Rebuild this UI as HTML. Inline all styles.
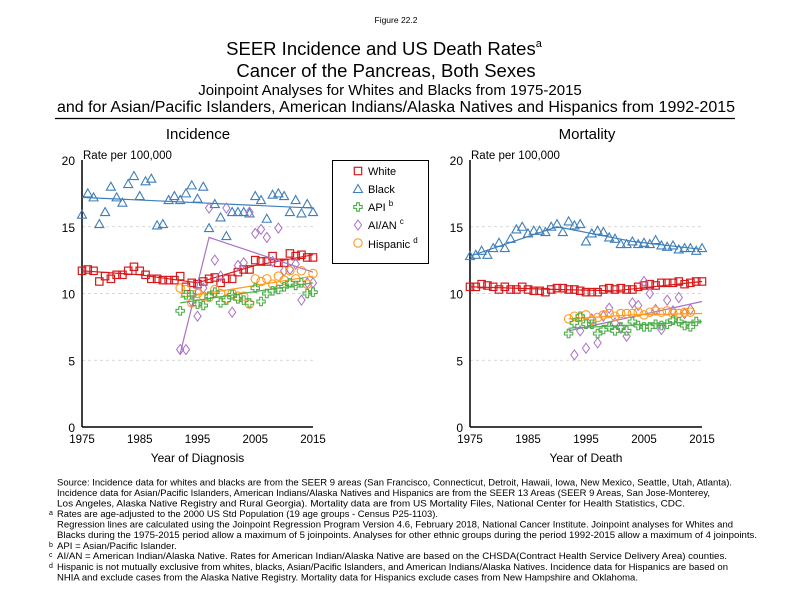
<!DOCTYPE html>
<html><head><meta charset="utf-8"><style>
html,body{margin:0;padding:0;background:#fff;}
svg{display:block;font-family:"Liberation Sans",sans-serif;}
</style></head><body>
<svg id="s" width="792" height="612" viewBox="0 0 792 612" xmlns="http://www.w3.org/2000/svg">
<text x="396" y="23" font-size="8.5" text-anchor="middle">Figure 22.2</text>
<text x="384" y="55" font-size="18.5" text-anchor="middle">SEER Incidence and US Death Rates<tspan font-size="11" dy="-8">a</tspan></text>
<text x="386" y="77" font-size="18.5" text-anchor="middle">Cancer of the Pancreas, Both Sexes</text>
<text x="390" y="95" font-size="15" text-anchor="middle">Joinpoint Analyses for Whites and Blacks from 1975-2015</text>
<text x="57" y="112" font-size="15.5" textLength="678" lengthAdjust="spacingAndGlyphs">and for Asian/Pacific Islanders, American Indians/Alaska Natives and Hispanics from 1992-2015</text>
<line x1="55" y1="118.5" x2="735" y2="118.5" stroke="#000" stroke-width="1.2"/>
<text x="198" y="139" font-size="15" text-anchor="middle">Incidence</text>
<text x="587" y="139" font-size="15" text-anchor="middle">Mortality</text>
<g id="plots"></g>
<rect x="332.5" y="160.5" width="96" height="103" fill="none" stroke="#000" stroke-width="1"/>
<g font-size="11">
<text x="368" y="175">White</text>
<text x="368" y="193">Black</text>
<text x="368" y="211">API <tspan font-size="8" dy="-5">b</tspan></text>
<text x="368" y="229">AI/AN <tspan font-size="8" dy="-5">c</tspan></text>
<text x="368" y="248">Hispanic <tspan font-size="8" dy="-5">d</tspan></text>
</g>
<g id="leg"></g>
<g font-size="9.6">
<text x="57" y="485.5" textLength="675" lengthAdjust="spacingAndGlyphs">Source:  Incidence data for whites and blacks are from the SEER 9 areas (San Francisco, Connecticut, Detroit, Hawaii, Iowa, New Mexico, Seattle, Utah, Atlanta).</text>
<text x="57" y="496" textLength="653" lengthAdjust="spacingAndGlyphs">Incidence data for Asian/Pacific Islanders, American Indians/Alaska Natives and Hispanics are from the SEER 13 Areas (SEER 9 Areas, San Jose-Monterey,</text>
<text x="57" y="506.6" textLength="628" lengthAdjust="spacingAndGlyphs">Los Angeles, Alaska Native Registry and Rural Georgia).  Mortality data are from US Mortality Files, National Center for Health Statistics, CDC.</text>
<text x="49" y="515" font-size="7">a</text>
<text x="57" y="517" textLength="381" lengthAdjust="spacingAndGlyphs">Rates are age-adjusted to the 2000 US Std Population (19 age groups - Census P25-1103).</text>
<text x="57" y="527.7" textLength="676" lengthAdjust="spacingAndGlyphs">Regression lines are calculated using the Joinpoint Regression Program Version 4.6, February 2018, National Cancer Institute.  Joinpoint analyses for Whites and</text>
<text x="57" y="538" textLength="700" lengthAdjust="spacingAndGlyphs">Blacks during the 1975-2015 period allow a maximum of 5 joinpoints. Analyses for other ethnic groups during the period 1992-2015 allow a maximum of 4 joinpoints.</text>
<text x="49" y="547" font-size="7">b</text>
<text x="57" y="548.8">API = Asian/Pacific Islander.</text>
<text x="49" y="557" font-size="7">c</text>
<text x="57" y="559" textLength="670" lengthAdjust="spacingAndGlyphs">AI/AN = American Indian/Alaska Native.  Rates for American Indian/Alaska Native are based on the CHSDA(Contract Health Service Delivery Area) counties.</text>
<text x="49" y="568" font-size="7">d</text>
<text x="57" y="569.9" textLength="671" lengthAdjust="spacingAndGlyphs">Hispanic is not mutually exclusive from whites, blacks, Asian/Pacific Islanders, and American Indians/Alaska Natives.  Incidence data for Hispanics are based on</text>
<text x="57" y="580.5" textLength="581" lengthAdjust="spacingAndGlyphs">NHIA and exclude cases from the Alaska Native Registry.  Mortality data for Hispanics exclude cases from New Hampshire and Oklahoma.</text>
</g>
</svg>
<script>
var NS="http://www.w3.org/2000/svg",P=document.getElementById("plots"),L=document.getElementById("leg");
function el(n,a,p){var e=document.createElementNS(NS,n);for(var k in a)e.setAttribute(k,a[k]);(p||P).appendChild(e);return e;}
var C={w:"#d7191c",b:"#3f7fb8",a:"#4daf4a",i:"#a873c4",h:"#ff9a1f"};
function mk(t,x,y,p){p=p||P;var c=C[t];
 if(t=="w")el("rect",{x:x-3.7,y:y-3.7,width:7.4,height:7.4,fill:"none",stroke:c,"stroke-width":1.2},p);
 if(t=="b")el("path",{d:"M"+x+" "+(y-4.5)+"L"+(x+4.5)+" "+(y+3.5)+"L"+(x-4.5)+" "+(y+3.5)+"Z",fill:"none",stroke:c,"stroke-width":1.1},p);
 if(t=="a")el("path",{d:"M"+(x-1.4)+" "+(y-4.2)+"h2.8v2.8h2.8v2.8h-2.8v2.8h-2.8v-2.8h-2.8v-2.8h2.8z",fill:"none",stroke:c,"stroke-width":1.1},p);
 if(t=="i")el("path",{d:"M"+x+" "+(y-5)+"L"+(x+3.6)+" "+y+"L"+x+" "+(y+5)+"L"+(x-3.6)+" "+y+"Z",fill:"none",stroke:c,"stroke-width":1},p);
 if(t=="h")el("circle",{cx:x,cy:y,r:4.2,fill:"none",stroke:c,"stroke-width":1.1},p);}
[["w",171],["b",189],["a",207],["i",225],["h",243]].forEach(function(d){mk(d[0],358,d[1],L);});
function plot(x0,x1,S,T){
 var X=function(yr){return x0+(yr-1975)*(x1-x0)/40},Y=function(v){return 427-v*13.35};
 [5,10,15].forEach(function(v){el("line",{x1:x0,x2:x1,y1:Y(v),y2:Y(v),stroke:"#ccc","stroke-dasharray":"3,3","stroke-width":0.8});});
 el("line",{x1:x0,x2:x0,y1:160,y2:427,stroke:"#000","stroke-width":1.5});
 el("line",{x1:x0,x2:x1,y1:427,y2:427,stroke:"#000","stroke-width":1.5});
 [0,5,10,15,20].forEach(function(v){var t=el("text",{x:x0-7,y:Y(v)+5,"font-size":12,"text-anchor":"end"});t.textContent=v;});
 [1975,1985,1995,2005,2015].forEach(function(v){var t=el("text",{x:X(v),y:443,"font-size":11.5,"text-anchor":"middle"});t.textContent=v;});
 var t=el("text",{x:x0+1,y:159,"font-size":11.5});t.textContent="Rate per 100,000";
 t=el("text",{x:(x0+x1)/2,y:462,"font-size":12,"text-anchor":"middle"});t.textContent=T;
 ["b","w","i","h","a"].forEach(function(k){var s=S[k],st=s.s;
  el("polyline",{points:s.t.map(function(p){return X(p[0])+","+Y(p[1])}).join(" "),fill:"none",stroke:C[k],"stroke-width":1.2});
  s.d.forEach(function(v,i){if(v!=null)mk(k,X(st+i),Y(v));});});
}
plot(82,313,{
 w:{s:1975,d:[11.7,11.8,11.7,10.9,11.3,11.1,11.4,11.4,11.7,12.0,11.7,11.4,11.1,11.1,11.0,11.0,11.0,11.3,10.5,10.8,10.7,10.9,11.1,11.2,10.8,11.1,11.1,11.6,11.8,11.8,12.5,12.4,12.4,12.8,12.3,12.3,13.0,12.8,12.9,12.7,12.7],t:[[1975,11.7],[1985,11.4],[1995,10.8],[2005,12.1],[2015,12.9]]},
 b:{s:1975,d:[15.9,17.5,17.2,15.2,16.1,18.0,17.2,16.8,18.2,18.8,17.3,18.4,18.6,15.1,15.2,17.0,17.3,17.0,17.5,18.1,17.1,18.0,14.9,16.7,15.7,14.3,16.1,16.1,16.1,16.0,17.3,17.0,15.6,17.4,17.5,17.3,16.1,17.0,16.0,16.7,16.1],t:[[1975,17.2],[2015,16.4]]},
 a:{s:1992,d:[8.7,9.9,9.9,9.2,9.1,9.8,10.1,9.3,9.5,9.9,9.6,9.5,9.3,10.4,9.4,10.0,10.2,10.3,10.5,10.8,10.6,10.8,10.0,10.1],t:[[1992,9.3],[2015,10.8]]},
 h:{s:1992,d:[10.4,10.3,9.3,10.0,9.8,9.7,10.3,10.0,9.6,10.0,9.8,9.8,9.2,11.1,10.9,11.1,10.7,11.3,11.0,11.7,11.1,11.7,10.7,11.5],t:[[1992,9.7],[2015,11.3]]},
 i:{s:1992,d:[5.8,5.8,9.4,8.3,10.4,16.4,12.5,11.3,16.4,8.6,12.1,12.3,16.1,14.5,14.8,14.2,12.4,14.9,11.7,11.8,12.2,9.5,10.8,10.8],t:[[1992,5.5],[1997,14.2],[2015,11.6]]}
},"Year of Diagnosis");
plot(470,702,{
 w:{s:1975,d:[10.5,10.5,10.7,10.6,10.5,10.3,10.5,10.3,10.3,10.5,10.3,10.2,10.2,10.1,10.3,10.4,10.4,10.3,10.3,10.2,10.1,10.1,10.1,10.3,10.4,10.3,10.4,10.3,10.3,10.5,10.6,10.7,10.6,10.8,10.8,10.8,10.9,10.7,10.8,10.9,10.9],t:[[1975,10.5],[1990,10.3],[2000,10.2],[2015,10.9]]},
 b:{s:1975,d:[12.8,12.9,13.2,12.9,13.4,13.8,13.4,14.1,14.8,15.0,14.5,14.7,14.7,14.6,15.0,15.2,14.6,15.4,15.1,15.2,13.9,14.5,14.7,14.6,14.2,14.1,13.7,13.7,13.9,13.7,13.8,13.7,14.0,13.6,13.5,13.6,13.3,13.4,13.4,13.2,13.4],t:[[1975,12.8],[1990,15.0],[2003,13.9],[2015,13.3]]},
 a:{s:1992,d:[7.0,7.8,8.3,7.7,7.7,7.0,7.3,7.5,7.2,7.5,7.2,7.9,7.6,7.5,7.5,7.7,7.6,7.7,8.0,7.9,7.6,7.5,7.9,null],t:[[1992,7.4],[2015,7.9]]},
 h:{s:1992,d:[8.1,8.3,8.2,8.4,8.0,8.2,8.4,8.5,8.3,8.5,8.5,8.5,8.6,8.4,8.6,8.7,8.6,8.7,8.5,8.5,8.6,8.6,null,null],t:[[1992,8.1],[2003,8.4],[2015,8.5]]},
 i:{s:1993,d:[5.4,7.2,5.9,8.1,6.3,8.3,8.9,7.8,7.4,6.8,9.3,9.1,10.9,10.0,8.8,7.3,9.5,8.7,9.7,8.5,8.8,null],t:[[1992,7.2],[2015,9.4]]}
},"Year of Death");
</script>
</body></html>
